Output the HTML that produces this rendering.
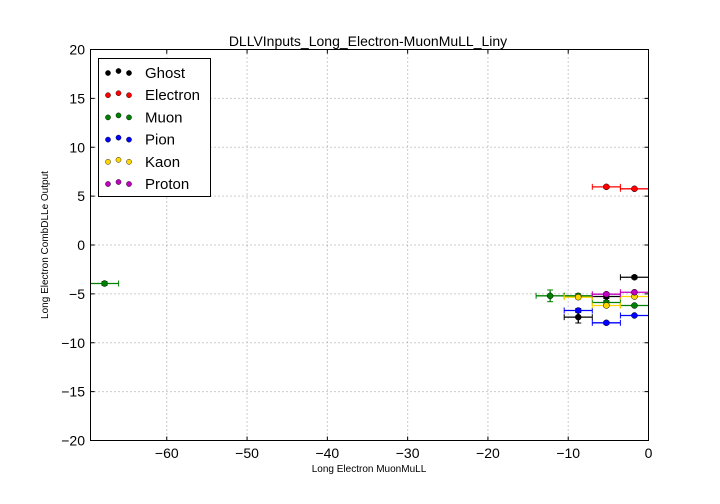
<!DOCTYPE html>
<html><head><meta charset="utf-8"><style>
body{margin:0;background:#fff;}
svg{display:block;font-family:"Liberation Sans","DejaVu Sans",sans-serif;}
</style></head><body>
<svg id="chart" width="720" height="504" viewBox="0 0 720 504">
<rect x="0" y="0" width="720" height="504" fill="#fff"/>
<g id="grid"></g>
<g id="marks"></g>
<rect x="90.5" y="49.5" width="558" height="391" fill="none" stroke="#000" stroke-width="1"/>
<g id="ticks"></g>
<text x="368" y="46" text-anchor="middle" font-size="14">DLLVInputs_Long_Electron-MuonMuLL_Liny</text>
<text x="369" y="472" text-anchor="middle" font-size="10">Long Electron MuonMuLL</text>
<text transform="translate(48,245) rotate(-90)" text-anchor="middle" font-size="10">Long Electron CombDLLe Output</text>
<g id="legend"></g>
</svg>
<script>
const species=["Ghost","Electron","Muon","Pion","Kaon","Proton"];
const colors=["#000000","#ff0000","#008000","#0000ff","#ffd700","#bf00bf"];
const xTicks=[-60,-50,-40,-30,-20,-10,0];
const yTicks=[-20,-15,-10,-5,0,5,10,15,20];
const halfWidth=1.75;
const ghostX=[-1.75,-5.25,-8.75];
const ghostY=[-3.3,-5.27,-7.38];
const ghostErr=[0.15,0.2,0.6];
const electronX=[-1.75,-5.25];
const electronY=[5.75,5.95];
const electronErr=[0.1,0.15];
const muonX=[-1.75,-5.25,-8.75,-12.25,-67.75];
const muonY=[-6.19,-5.88,-5.2,-5.2,-3.94];
const muonErr=[0.1,0.2,0.2,0.6,0.2];
const pionX=[-1.75,-5.25,-8.75];
const pionY=[-7.21,-7.96,-6.7];
const pionErr=[0.1,0.15,0.2];
const kaonX=[-1.75,-5.25,-8.75];
const kaonY=[-5.27,-6.19,-5.34];
const kaonErr=[0.1,0.2,0.2];
const protonX=[-1.75,-5.25];
const protonY=[-4.83,-5.03];
const protonErr=[0.1,0.15];
const seriesX=[ghostX,electronX,muonX,pionX,kaonX,protonX];
const seriesY=[ghostY,electronY,muonY,pionY,kaonY,protonY];
const seriesE=[ghostErr,electronErr,muonErr,pionErr,kaonErr,protonErr];

const NS="http://www.w3.org/2000/svg";
const X0=90.5,X1=648.5,Y0=440.5,Y1=49.5,xmin=-69.5,xmax=0,ymin=-20,ymax=20;
function sx(v){return X0+(v-xmin)/(xmax-xmin)*(X1-X0);}
function sy(v){return Y0-(v-ymin)/(ymax-ymin)*(Y0-Y1);}
function mk(tag,attrs,parent){const e=document.createElementNS(NS,tag);for(const k in attrs)e.setAttribute(k,attrs[k]);parent.appendChild(e);return e;}
const grid=document.getElementById('grid'),ticks=document.getElementById('ticks'),marks=document.getElementById('marks'),legend=document.getElementById('legend');
xTicks.forEach(t=>{
  const x=sx(t);
  const g=mk('line',{x1:x,x2:x,y1:Y1,y2:Y0,stroke:'#999','stroke-dasharray':'1,3'},grid);
  
  
  const tk=mk('line',{x1:x,x2:x,y1:Y0,y2:Y0-4,stroke:'#000'},ticks);
  
  
  const tk2=mk('line',{x1:x,x2:x,y1:Y1,y2:Y1+4,stroke:'#000'},ticks);
  
  
  const lb=mk('text',{x:x,y:458,'text-anchor':'middle','font-size':'14'},ticks);
  lb.textContent=(t<0?'\u2212'+(-t):t);
  
  
});
yTicks.forEach(t=>{
  const y=sy(t);
  const g=mk('line',{x1:X0,x2:X1,y1:y,y2:y,stroke:'#999','stroke-dasharray':'1,3'},grid);
  
  
  const tk=mk('line',{x1:X0,x2:X0+4,y1:y,y2:y,stroke:'#000'},ticks);
  
  
  const tk2=mk('line',{x1:X1,x2:X1-4,y1:y,y2:y,stroke:'#000'},ticks);
  
  
  const lb=mk('text',{x:85,y:y+5,'text-anchor':'end','font-size':'14'},ticks);
  lb.textContent=(t<0?'\u2212'+(-t):t);
  
  
});
species.forEach((s,i)=>{
  const g=mk('g',{},marks);
  
  
  const c=colors[i];
  seriesX[i].forEach((xv,j)=>{
    const yv=seriesY[i][j],e=seriesE[i][j];
    const cx=sx(xv),cy=sy(yv),xl=sx(xv-halfWidth),xr=Math.min(sx(xv+halfWidth),X1);
    mk('line',{x1:xl,x2:xr,y1:cy,y2:cy,stroke:c,'stroke-width':1.3},g);
    mk('line',{x1:xl,x2:xl,y1:cy-3,y2:cy+3,stroke:c},g);
    mk('line',{x1:xr,x2:xr,y1:cy-3,y2:cy+3,stroke:c},g);
    mk('line',{x1:cx,x2:cx,y1:sy(yv+e),y2:sy(yv-e),stroke:c,'stroke-width':1.3},g);
    mk('line',{x1:cx-3,x2:cx+3,y1:sy(yv+e),y2:sy(yv+e),stroke:c},g);
    mk('line',{x1:cx-3,x2:cx+3,y1:sy(yv-e),y2:sy(yv-e),stroke:c},g);
    const p=mk('circle',{cx:cx,cy:cy,r:3,fill:c,stroke:'#000','stroke-width':0.5},g);
    
    
  });
});
const box=mk('rect',{x:98.5,y:58.5,width:112,height:138,fill:'#fff',stroke:'#000'},legend);


species.forEach((s,i)=>{
  const y=72+i*22.2;
  const g=mk('g',{},legend);
  
  
  [108,118.5,129].forEach((x,k)=>mk('circle',{cx:x,cy:y+(k==1?-1:1),r:2.6,fill:colors[i],stroke:'#000','stroke-width':0.4},g));
  const t=mk('text',{x:145,y:y+6,'font-size':'15'},g);
  t.textContent=s;
});
</script>
</body></html>
